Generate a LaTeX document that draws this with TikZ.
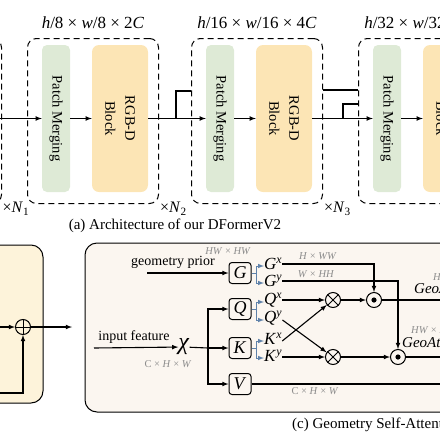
\documentclass[tikz,border=0pt]{standalone}
\usepackage{fontspec}
\setmainfont{Liberation Serif}
\usetikzlibrary{arrows,positioning,calc}
\definecolor{pmgreen}{RGB}{222,234,214}
\definecolor{rgbyellow}{RGB}{252,229,181}
\definecolor{bfill}{RGB}{253,243,218}
\definecolor{cfill}{RGB}{251,246,240}
\definecolor{splitblue}{RGB}{95,130,170}
\definecolor{labgray}{RGB}{140,140,140}
\newcommand{\itv}[1]{\textit{#1}}
\newcommand{\tms}{\ ×\ }
\begin{document}
\begin{tikzpicture}[x=1pt,y=-1pt,
    line/.style={line width=1.1pt},
    arr/.style={-latex,line width=1.1pt},
    split/.style={draw=splitblue,line width=1pt},
    stagebox/.style={draw,dash pattern=on 6pt off 4pt,rounded corners=9pt,line width=1pt,minimum width=131pt,minimum height=165pt,anchor=north west},
    pmbox/.style={fill=pmgreen,rounded corners=5pt,rotate=-90,minimum width=147pt,minimum height=28pt,inner sep=0pt,font=\fontsize{14.5}{16}\selectfont},
    rgbbox/.style={fill=rgbyellow,rounded corners=7pt,rotate=-90,minimum width=147pt,minimum height=56pt,inner sep=0pt,align=center,font=\fontsize{14.5}{20}\selectfont},
    txt/.style={font=\fontsize{14}{16}\selectfont,inner sep=1pt},
    captext/.style={font=\fontsize{15}{17}\selectfont,inner sep=1pt},
    dimlab/.style={text=labgray,font=\fontsize{10.5}{12}\selectfont,inner sep=1pt},
    op/.style={draw,rounded corners=3pt,line width=1pt,minimum width=22pt,minimum height=21pt,inner sep=0pt,font=\fontsize{18}{20}\selectfont},
    sym/.style={font=\fontsize{17}{19}\selectfont,inner sep=0pt},
    circ/.style={draw,circle,line width=1pt,minimum size=15pt,inner sep=0pt},
    addop/.style={circ,path picture={\draw[line width=0.9pt] (path picture bounding box.north) -- (path picture bounding box.south) (path picture bounding box.west) -- (path picture bounding box.east);}},
    mulop/.style={circ,path picture={\draw[line width=0.9pt] (path picture bounding box.north west) -- (path picture bounding box.south east) (path picture bounding box.north east) -- (path picture bounding box.south west);}},
    dotop/.style={circ,path picture={\fill (path picture bounding box.center) circle (2.6pt);}}]
    \useasboundingbox (0,0) rectangle (440,440);
    \clip (0,0) rectangle (440,440);

    \node[stagebox] (S0) at (-130,38) {};
    \node[anchor=west,font=\fontsize{16}{18}\selectfont,inner sep=0.5pt] at ($(S0.south east)+(0,5)$) {×\itv{N}\textsubscript{1}};
    \foreach \xl/\lab/\k [count=\n] in {27/{\itv{h}/8\tms\itv{w}/8\tms 2\itv{C}}/2,191/{\itv{h}/16\tms\itv{w}/16\tms 4\itv{C}}/3,358/{\itv{h}/32\tms\itv{w}/32\tms 8\itv{C}}/4}{
        \node[stagebox] (S\n) at (\xl,38) {};
        \node[pmbox] (P\n) at (\xl+29,118.5) {Patch Merging};
        \node[rgbbox] (R\n) at (\xl+93,118.5) {RGB-D\\Block};
        \node[font=\fontsize{17}{19}\selectfont] at (\xl+66,23) {\lab};
        \node[anchor=west,font=\fontsize{16}{18}\selectfont,inner sep=1pt] at ($(S\n.south east)+(0,5)$) {×\itv{N}\textsubscript{\k}};
        \draw[arr] (P\n) -- (R\n);
    }
    \coordinate (in) at (-10,118.5);
    \draw[arr] (in) -- (P1);
    \draw[arr] (R1) -- (P2);
    \draw[arr] (R2) -- (P3);
    \draw[line] (176,118.5) |- (191,91);
    \draw[line] (323,90) -- (358,90);
    \draw[line] (343,118.5) |- (358,104);
    \node[captext] at (175,226) {(a) Architecture of our DFormerV2};

    \draw[fill=bfill,rounded corners=12pt,line width=1pt] (-150,245) rectangle (43,403);
    \node[addop] (add) at (23,327) {};
    \coordinate (bin) at (-10,327);
    \coordinate (skip) at (-10,393);
    \coordinate (bout) at (72,327);
    \draw[arr] (bin) -- (add);
    \draw[arr] (skip) -| (add);
    \draw[arr] (add) -- (bout);

    \draw[fill=cfill,rounded corners=12pt,line width=1pt] (85,243) rectangle (560,412);
    \foreach \l/\y in {G/273,Q/309,K/348,V/384}
        \node[op] (\l) at (240,\y) {\itv{\l}};
    \node[txt] (prior) at (173,262) {geometry prior};
    \node[dimlab] at (228,251) {\itv{HW}\tms\itv{HW}};
    \coordinate (gp) at (147,273);
    \draw[arr] (gp) -- (G);
    \node[txt] (feat) at (134,337) {input feature};
    \node[font=\fontsize{24}{26}\selectfont,inner sep=0pt] (chi) at (184,347) {\itv{χ}};
    \node[dimlab] at (168,364) {C\tms\itv{H}\tms\itv{W}};
    \coordinate (fin) at (94,348);
    \coordinate (fork) at (208,348);
    \draw[arr] (fin) -- (chi);
    \draw[line] (chi) -- (fork);
    \draw[arr] (fork) |- (Q);
    \draw[arr] (fork) -- (K);
    \draw[arr] (fork) |- (V);

    \foreach \l/\ya/\yb in {G/264/281,Q/300/318,K/339/356}{
        \node[sym,anchor=west] (\l x) at (264,\ya) {\itv{\l}\textsuperscript{\itv{x}}};
        \node[sym,anchor=west] (\l y) at (264,\yb) {\itv{\l}\textsuperscript{\itv{y}}};
        \draw[split] (\l.east) -- ++(5,0) coordinate (\l s);
        \draw[arr,split] (\l s) |- ($(\l x.west)+(0,2)$);
        \draw[arr,split] (\l s) |- ($(\l y.west)+(0,2)$);
    }

    \node[mulop] (M1) at (333,300) {};
    \node[mulop] (M2) at (333,357) {};
    \node[dotop] (D1) at (374,300) {};
    \node[dotop] (D2) at (398,357) {};
    \draw[arr] (Gx.east) -| (D1);
    \draw[arr] (Gy.east) -| (D2);
    \draw[arr] (Qx.east |- M1) -- (M1);
    \draw[arr] (Ky.east |- M2) -- (M2);
    \draw[arr] ($(Qy.east)+(0,2)$) -- (M2);
    \draw[arr] ($(Kx.east)+(0,2)$) -- (M1);
    \draw[arr] (M1) -- (D1);
    \draw[arr] (M2) -- (D2);
    \coordinate (o1) at (450,300);
    \coordinate (o2) at (450,357);
    \coordinate (vout) at (450,384);
    \draw[line] (D1) -- (o1);
    \draw[line] (D2) -- (o2);
    \draw[line] (V) -- (vout);
    \node[dimlab] at (318,256) {\itv{H}\tms\itv{WW}};
    \node[dimlab] at (316,274) {\itv{W}\tms\itv{HH}};
    \node[dimlab] at (315,391) {C\tms\itv{H}\tms\itv{W}};
    \node[anchor=west,font=\fontsize{15}{17}\selectfont,inner sep=1pt] at (413,290) {\itv{GeoAttn}\textsubscript{\itv{x}}};
    \node[dimlab,anchor=west] at (432,277) {\itv{H}\tms\itv{W}\tms\itv{W}};
    \node[anchor=west,font=\fontsize{15}{17}\selectfont,inner sep=1pt] at (401,345) {\itv{GeoAttn}\textsubscript{\itv{y}}};
    \node[dimlab,anchor=west] at (410,330) {\itv{HW}\tms\itv{H}};
    \node[captext,anchor=west] at (291,425) {(c) Geometry Self-Attention};
\end{tikzpicture}
\end{document}
